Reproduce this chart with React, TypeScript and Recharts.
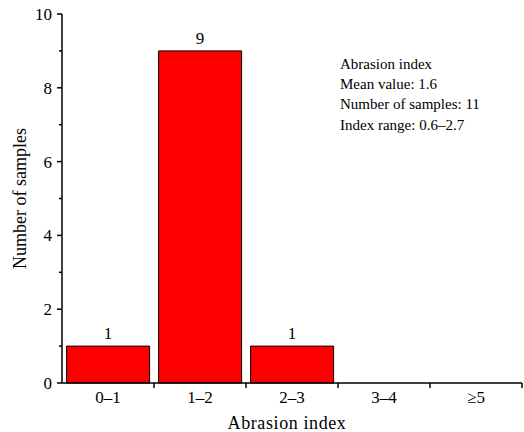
import { Bar, BarChart, LabelList, XAxis, YAxis } from 'recharts';

const categories = ['0–1', '1–2', '2–3', '3–4', '≥5'];
const counts = [1, 9, 1, 0, 0];
const yTicks = [0, 1, 2, 3, 4, 5, 6, 7, 8, 9, 10];
const infoLines = ['Abrasion index', 'Mean value: 1.6', 'Number of samples: 11', 'Index range: 0.6–2.7'];

const data = categories.map((c, i) => ({ cat: c, n: counts[i] }));

const FONT = '"Liberation Serif", "Times New Roman", serif';

function XTick(props: any) {
  const { x, y, payload } = props;
  const half = payload && payload.offset ? payload.offset : 46;
  return (
    <g>
      <line x1={x + half} x2={x + half} y1={y} y2={y + 5} stroke="#000" strokeWidth={1.5} />
      <text x={x} y={y + 8} dy="0.71em" textAnchor="middle" fontSize={17} fontFamily={FONT} fill="#000">
        {payload.value}
      </text>
    </g>
  );
}

function YTick(props: any) {
  const { x, y, payload } = props;
  const major = payload.value % 2 === 0;
  return (
    <g>
      <line x1={x - (major ? 5 : 3)} x2={x} y1={y} y2={y} stroke="#000" strokeWidth={1.5} />
      {major && (
        <text x={x - 10} y={y} dy="0.35em" textAnchor="end" fontSize={17} fontFamily={FONT} fill="#000">
          {payload.value}
        </text>
      )}
    </g>
  );
}

export default function App() {
  return (
    <div style={{ position: 'absolute', left: 0, top: 0, width: 524, height: 432, background: '#fff' }}>
      <BarChart
        width={524}
        height={432}
        data={data}
        margin={{ top: 14, right: 2, bottom: 0, left: 0 }}
        barCategoryGap="5%"
      >
        <XAxis
          dataKey="cat"
          height={49}
          tickSize={0}
          tickMargin={0}
          tick={<XTick />}
          axisLine={{ stroke: '#000', strokeWidth: 1.5 }}
          interval={0}
          label={{ value: 'Abrasion index', position: 'insideBottom', offset: 3, fontSize: 18, letterSpacing: 0.6, fontFamily: FONT, fill: '#000', dx: -5 }}
        />
        <YAxis
          width={62}
          domain={[0, 10]}
          ticks={yTicks}
          interval={0}
          tickSize={0}
          tickMargin={0}
          tick={<YTick />}
          axisLine={{ stroke: '#000', strokeWidth: 1.5 }}
          label={{ value: 'Number of samples', angle: -90, position: 'center', dx: -11, fontSize: 18, fontFamily: FONT, fill: '#000' }}
        />
        <Bar dataKey="n" fill="#ff0000" stroke="#000" strokeWidth={1} isAnimationActive={false}>
          <LabelList
            dataKey="n"
            position="top"
            offset={7}
            formatter={(v: any) => (v > 0 ? v : '')}
            style={{ fontSize: 17, fontFamily: FONT, fill: '#000' }}
          />
        </Bar>
      </BarChart>
      <div
        style={{
          position: 'absolute',
          left: 340,
          top: 54,
          fontFamily: FONT,
          fontSize: 15,
          lineHeight: '20.2px',
          color: '#000',
          whiteSpace: 'nowrap',
        }}
      >
        {infoLines.map((t) => (
          <div key={t}>{t}</div>
        ))}
      </div>
    </div>
  );
}
